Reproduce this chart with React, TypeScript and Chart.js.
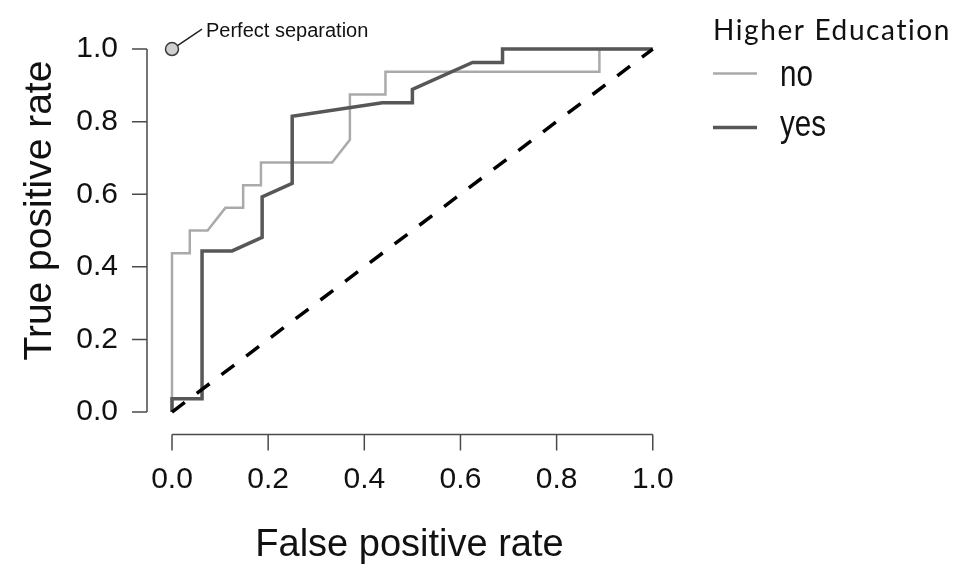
import { useEffect, useRef } from "react";
import { Chart, registerables } from "chart.js";

Chart.register(...registerables);

// ROC curve values
const fprNo = [0, 0, 0.037, 0.037, 0.074, 0.111, 0.148, 0.148, 0.185, 0.185, 0.333, 0.37, 0.37, 0.444, 0.444, 0.889, 0.889, 1.0];
const tprNo = [0, 0.4375, 0.4375, 0.5, 0.5, 0.5625, 0.5625, 0.625, 0.625, 0.6875, 0.6875, 0.75, 0.875, 0.875, 0.9375, 0.9375, 1.0, 1.0];

const fprYes = [0, 0, 0.0625, 0.0625, 0.125, 0.1875, 0.1875, 0.25, 0.25, 0.4375, 0.5, 0.5, 0.625, 0.6875, 0.6875, 1.0];
const tprYes = [0, 0.037, 0.037, 0.444, 0.444, 0.481, 0.593, 0.63, 0.815, 0.852, 0.852, 0.889, 0.963, 0.963, 1.0, 1.0];

const chanceX = [0, 1];
const chanceY = [0, 1];

const perfectX = [0];
const perfectY = [1];

const tickValues = [0, 0.2, 0.4, 0.6, 0.8, 1.0];

const legendTitle = "Higher Education";
const groupLabels = ["no", "yes"];
const perfectLabel = "Perfect separation";
const xTitle = "False positive rate";
const yTitle = "True positive rate";

const COLOR_NO = "#aaaaaa";
const COLOR_YES = "#575757";
const AXIS_COLOR = "#4a4a4a";
const TEXT_COLOR = "#111111";
const SANS = "'Liberation Sans', Arial, sans-serif";

const toPoints = (xs: number[], ys: number[]) => xs.map((x, i) => ({ x, y: ys[i] }));

// R-style axes: line only spans the tick range, ticks point outward
const rAxesPlugin = {
  id: "rAxes",
  afterDraw(chart: any) {
    const { ctx, chartArea } = chart;
    const x = chart.scales.x;
    const y = chart.scales.y;
    ctx.save();
    ctx.strokeStyle = AXIS_COLOR;
    ctx.lineWidth = 1.5;
    const by = chartArea.bottom;
    const lx = chartArea.left;
    ctx.beginPath();
    ctx.moveTo(x.getPixelForValue(0), by);
    ctx.lineTo(x.getPixelForValue(1), by);
    tickValues.forEach((v) => {
      const px = x.getPixelForValue(v);
      ctx.moveTo(px, by);
      ctx.lineTo(px, by + 16);
    });
    ctx.moveTo(lx, y.getPixelForValue(0));
    ctx.lineTo(lx, y.getPixelForValue(1));
    tickValues.forEach((v) => {
      const py = y.getPixelForValue(v);
      ctx.moveTo(lx, py);
      ctx.lineTo(lx - 15, py);
    });
    ctx.stroke();

    // y title sits a little above the middle of the axis, as in R's output
    const mid = (y.getPixelForValue(0) + y.getPixelForValue(1)) / 2 - 20;
    ctx.translate(50.5, mid);
    ctx.rotate(-Math.PI / 2);
    ctx.fillStyle = TEXT_COLOR;
    ctx.font = `39px ${SANS}`;
    ctx.textAlign = "center";
    ctx.textBaseline = "alphabetic";
    ctx.fillText(yTitle, 0, 0);
    ctx.restore();
  },
};

// label pointing at the perfect-separation corner
const perfectNotePlugin = {
  id: "perfectNote",
  afterDatasetsDraw(chart: any) {
    const { ctx } = chart;
    const px = chart.scales.x.getPixelForValue(perfectX[0]);
    const py = chart.scales.y.getPixelForValue(perfectY[0]);
    ctx.save();
    ctx.strokeStyle = "#222222";
    ctx.lineWidth = 1.5;
    ctx.beginPath();
    ctx.moveTo(px + 5.5, py - 3.5);
    ctx.lineTo(px + 30, py - 20);
    ctx.stroke();
    ctx.fillStyle = TEXT_COLOR;
    ctx.font = `20px ${SANS}`;
    ctx.textBaseline = "alphabetic";
    ctx.textAlign = "left";
    ctx.fillText(perfectLabel, px + 34, py - 12.3);
    ctx.restore();
  },
};

// legend on the right, like the R plot
const sideLegendPlugin = {
  id: "sideLegend",
  afterDraw(chart: any) {
    const { ctx, chartArea } = chart;
    const x0 = chartArea.right + 41;
    ctx.save();
    ctx.fillStyle = TEXT_COLOR;
    ctx.textAlign = "left";
    ctx.textBaseline = "alphabetic";
    ctx.font = `28px Lato, 'Noto Sans', sans-serif`;
    ctx.letterSpacing = "1.6px";
    ctx.fillText(legendTitle, x0, 39.5);
    ctx.letterSpacing = "0px";
    const rows = [
      { lineY: 73.5, textY: 85.5 },
      { lineY: 127.5, textY: 136 },
    ];
    groupLabels.forEach((label, i) => {
      const ds = chart.data.datasets.find((d: any) => d.label === label);
      if (!ds) return;
      ctx.strokeStyle = ds.borderColor;
      ctx.lineWidth = ds.borderWidth;
      ctx.beginPath();
      ctx.moveTo(x0, rows[i].lineY);
      ctx.lineTo(x0 + 44, rows[i].lineY);
      ctx.stroke();
      // the legend font in the original is a narrow grotesque
      ctx.save();
      ctx.translate(x0 + 67, rows[i].textY);
      ctx.scale(0.8, 1);
      ctx.fillStyle = TEXT_COLOR;
      ctx.font = `37px ${SANS}`;
      ctx.fillText(label, 0, 0);
      ctx.restore();
    });
    ctx.restore();
  },
};

export default function App() {
  const canvasRef = useRef<HTMLCanvasElement>(null);

  useEffect(() => {
    const ctx = canvasRef.current?.getContext("2d");
    if (!ctx) return;
    Chart.defaults.font.family = SANS;
    Chart.defaults.color = TEXT_COLOR;

    const chart = new Chart(ctx, {
      type: "scatter",
      data: {
        datasets: [
          {
            label: "chance",
            data: toPoints(chanceX, chanceY),
            showLine: true,
            borderColor: "#000000",
            borderWidth: 3.5,
            borderDash: [16, 15],
            pointRadius: 0,
            clip: false,
          },
          {
            label: "perfect",
            data: toPoints(perfectX, perfectY),
            showLine: false,
            pointRadius: 6.5,
            pointBackgroundColor: "#cfcfcf",
            pointBorderColor: "#3a3a3a",
            pointBorderWidth: 1.5,
            clip: false,
          },
          {
            label: groupLabels[1],
            data: toPoints(fprYes, tprYes),
            showLine: true,
            borderColor: COLOR_YES,
            borderWidth: 3.5,
            pointRadius: 0,
            tension: 0,
            clip: false,
          },
          {
            label: groupLabels[0],
            data: toPoints(fprNo, tprNo),
            showLine: true,
            borderColor: COLOR_NO,
            borderWidth: 2.5,
            pointRadius: 0,
            tension: 0,
            clip: false,
          },
        ],
      },
      options: {
        responsive: true,
        maintainAspectRatio: false,
        animation: false,
        events: [],
        layout: { padding: { top: 34.5, right: 297, bottom: 0, left: 0 } },
        plugins: {
          legend: { display: false },
          tooltip: { enabled: false },
        },
        scales: {
          x: {
            type: "linear",
            min: -0.052,
            max: 1.04,
            grid: { display: false, drawTicks: true, tickLength: 27.5 },
            border: { display: false },
            afterBuildTicks: (scale: any) => {
              scale.ticks = tickValues.map((v) => ({ value: v }));
            },
            afterFit: (scale: any) => {
              scale.height = 133.4;
            },
            ticks: {
              padding: 0,
              font: { size: 30 },
              color: TEXT_COLOR,
              maxRotation: 0,
              autoSkip: false,
              callback: (v: any) => Number(v).toFixed(1),
            },
            title: {
              display: true,
              text: xTitle,
              font: { size: 38 },
              color: TEXT_COLOR,
              padding: { top: 0, bottom: 0 },
            },
          },
          y: {
            type: "linear",
            min: -0.062,
            max: 1.04,
            grid: { display: false, drawTicks: true, tickLength: 29 },
            border: { display: false },
            afterBuildTicks: (scale: any) => {
              scale.ticks = tickValues.map((v) => ({ value: v }));
            },
            afterFit: (scale: any) => {
              scale.width = 147;
            },
            ticks: {
              padding: 0,
              font: { size: 30 },
              color: TEXT_COLOR,
              autoSkip: false,
              callback: (v: any) => Number(v).toFixed(1),
            },
            title: { display: false },
          },
        },
      },
      plugins: [rAxesPlugin, perfectNotePlugin, sideLegendPlugin],
    });

    return () => chart.destroy();
  }, []);

  return (
    <div style={{ position: "absolute", left: 0, top: 0, width: 969, height: 568, background: "#ffffff" }}>
      <canvas ref={canvasRef} />
    </div>
  );
}
